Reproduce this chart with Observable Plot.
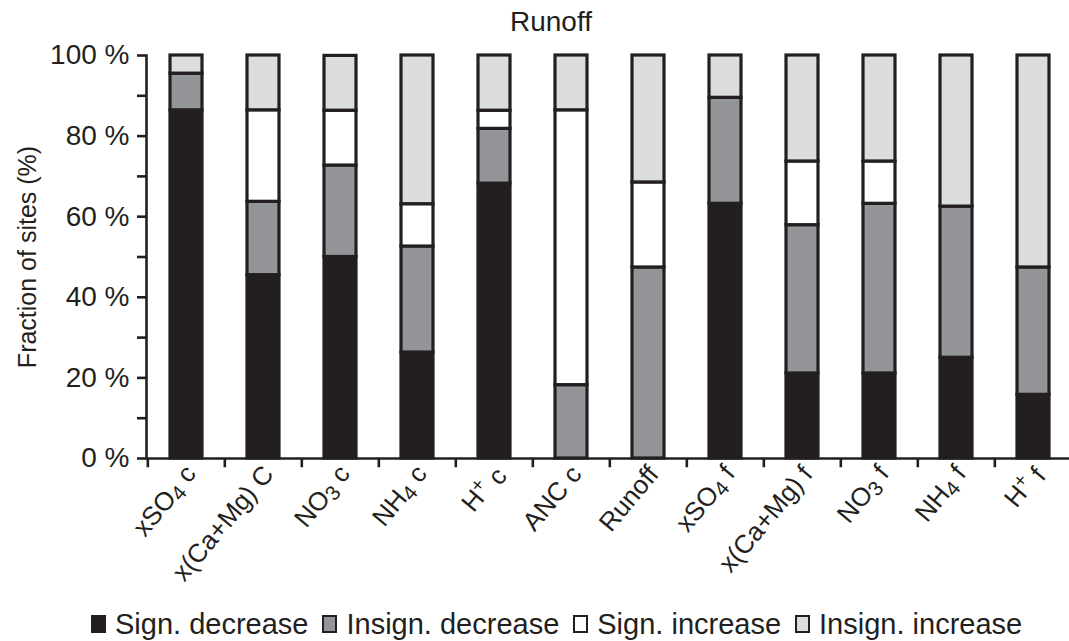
<!DOCTYPE html>
<html><head><meta charset="utf-8">
<script src="https://cdn.jsdelivr.net/npm/d3@7"></script>
<script src="https://cdn.jsdelivr.net/npm/@observablehq/plot@0.6"></script>
<style>
body{margin:0;background:#fff;font-family:"Liberation Sans",Arial,sans-serif;color:#231f20;}
#title{height:40px;line-height:44px;font-size:28px;text-align:center;width:1069px;padding-left:33px;box-sizing:border-box}
#chart svg{display:block}
#legend{display:flex;align-items:center;padding-left:91px;padding-top:7px;height:34px;font-size:29px;white-space:nowrap}
.item{display:flex;align-items:center;margin-right:14px}
.sw{width:11px;height:14px;border:2.5px solid #231f20;margin-right:9px;box-sizing:content-box}
</style></head>
<body><div id="title">Runoff</div><div id="chart"></div><div id="legend"></div>
<script>
const categories = ["xSO4 c","x(Ca+Mg) C","NO3 c","NH4 c","H+ c","ANC c","Runoff","xSO4 f","x(Ca+Mg) f","NO3 f","NH4 f","H+ f"];
const series = ["Sign. decrease","Insign. decrease","Sign. increase","Insign. increase"];
const colors = ["#231f20","#939598","#ffffff","#dcdddf"];
const signDecrease   = [86.4, 45.5, 50.0, 26.3, 68.2,  0.0,  0.0, 63.2, 21.1, 21.1, 25.0, 15.8];
const insignDecrease = [ 9.1, 18.2, 22.7, 26.3, 13.6, 18.2, 47.4, 26.3, 36.8, 42.1, 37.5, 31.6];
const signIncrease   = [ 0.0, 22.7, 13.6, 10.5,  4.5, 68.2, 21.1,  0.0, 15.8, 10.5,  0.0,  0.0];
const insignIncrease = [ 4.5, 13.6, 13.6, 36.9, 13.7, 13.6, 31.5, 10.5, 26.3, 26.3, 37.5, 52.6];
const yTicks = [0,10,20,30,40,50,60,70,80,90,100];
const yLabel = "Fraction of sites (%)";

const seriesValues = [signDecrease, insignDecrease, signIncrease, insignIncrease];
const data = [];
categories.forEach((c, i) => series.forEach((s, j) => {
  data.push({category: c, series: s, value: seriesValues[j][i]});
}));
const ink = "#231f20";

const chart = Plot.plot({
  width: 1069, height: 560,
  marginTop: 15, marginLeft: 146, marginRight: -5, marginBottom: 142,
  style: {fontFamily: '"Liberation Sans", Arial, sans-serif', color: ink, background: "#fff"},
  x: {domain: categories, paddingInner: 0.58, paddingOuter: 0.29, axis: null},
  y: {domain: [0, 100], axis: null},
  color: {domain: series, range: colors},
  marks: [
    Plot.barY(data.filter(d => d.value > 0), {x: "category", y: "value", fill: "series", stroke: ink, strokeWidth: 3.2}),
    Plot.ruleY([0], {stroke: ink, strokeWidth: 2.6}),
    Plot.frame({anchor: "left", stroke: ink, strokeWidth: 2.6}),
    Plot.ruleX(categories, {x: d => d, y1: 0, y2: -2.3, dx: -38.67, stroke: ink, strokeWidth: 2.6}),
    Plot.axisY({ticks: yTicks, tickSize: 9, tickPadding: 8, strokeWidth: 2.6, stroke: ink,
      tickFormat: d => d % 20 === 0 ? `${d} %` : "", fontSize: 28, label: null}),
    Plot.text([yLabel], {frameAnchor: "left", textAnchor: "middle", dx: -119, rotate: -90, fontSize: 25, fill: ink}),
    Plot.axisX({tickSize: 0, tickRotate: -50, tickPadding: 11, dx: 5, fontSize: 26, label: null})
  ]
});
document.getElementById("chart").appendChild(chart);

// subscripts / superscripts in tick labels
chart.querySelectorAll('g[aria-label="x-axis tick label"] text').forEach(t => {
  const s = t.textContent;
  let html = s.replace(/(SO|NO|NH)(\d)/, '$1<tspan font-size="0.8em" dy="0.2em">$2</tspan><tspan dy="-0.2em"> </tspan>')
              .replace(/H\+/, 'H<tspan font-size="0.75em" dy="-0.45em">+</tspan><tspan dy="0.45em"> </tspan>');
  html = html.replace('</tspan> c', '</tspan>c').replace('</tspan> f', '</tspan>f');
  t.innerHTML = html;
});

const legend = document.getElementById("legend");
series.forEach((s, j) => {
  const it = document.createElement("div"); it.className = "item";
  const sw = document.createElement("div"); sw.className = "sw"; sw.style.background = colors[j];
  const tx = document.createElement("span"); tx.textContent = s;
  it.appendChild(sw); it.appendChild(tx); legend.appendChild(it);
});
</script></body></html>
